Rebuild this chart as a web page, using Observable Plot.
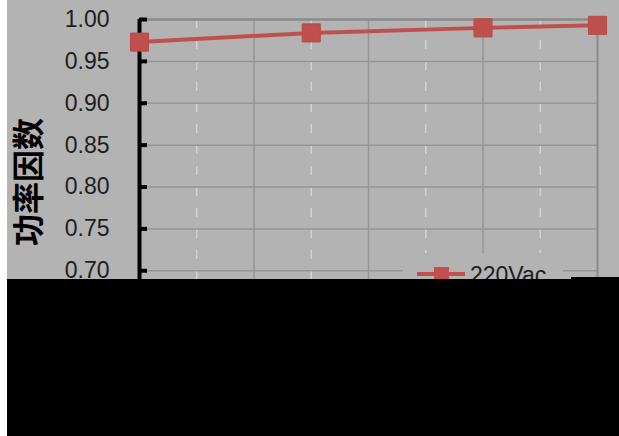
<!DOCTYPE html>
<html><head><meta charset="utf-8">
<script src="https://cdn.jsdelivr.net/npm/d3@7"></script>
<script src="https://cdn.jsdelivr.net/npm/@observablehq/plot@0.6"></script>
<style>
html,body{margin:0;padding:0;background:#fff;}
#wrap{position:relative;width:619px;height:436px;overflow:hidden;background:#fff;}
#bg{position:absolute;left:7px;top:0;right:0;bottom:0;background:#b3b3b3;}
#chart{position:absolute;left:0;top:0;}
#legend{position:absolute;left:403px;top:253px;width:160px;height:40px;background:#b3b3b3;}
#legend svg{position:absolute;left:14px;top:13px;}
#legend span{position:absolute;left:67px;top:9px;font:23px 'Liberation Sans',Arial,sans-serif;color:#1e1e1e;line-height:27px;}
#cover{position:absolute;left:7px;top:279px;right:0;bottom:0;background:#000;}
#cover2{position:absolute;left:571px;top:277px;right:0;height:3px;background:#000;}
</style>
</head><body>
<div id="wrap">
  <div id="bg"></div>
  <div id="chart"></div>
  <div id="legend"></div>
  <div id="cover"></div>
  <div id="cover2"></div>
</div>
<script>
// Data
const loadPct = [20, 50, 80, 100];
const pf220 = [0.973, 0.984, 0.990, 0.993];
const seriesName = "220Vac";
const yTicks = [0.60, 0.65, 0.70, 0.75, 0.80, 0.85, 0.90, 0.95, 1.00];
const xMajor = [20, 40, 60, 80, 100];
const xMinor = [30, 50, 70, 90];
const yTitle = "功率因数";

const data = loadPct.map((x, i) => ({x, y: pf220[i]}));
const red = "#c0504d";

const chart = Plot.plot({
  width: 619, height: 436,
  marginLeft: 139, marginRight: 22, marginTop: 19, marginBottom: 82,
  style: {background: "transparent", fontFamily: "'Liberation Sans', Arial, sans-serif", fontSize: "23px", color: "#1e1e1e", overflow: "visible"},
  x: {domain: [20, 100], axis: null},
  y: {domain: [0.6, 1.0], axis: null},
  marks: [
    Plot.ruleX(xMinor, {stroke: "#d2d2d2", strokeWidth: 1.5, strokeDasharray: "9,12"}),
    Plot.ruleY(yTicks.filter(d => d < 1), {stroke: "#969696", strokeWidth: 1.5}),
    Plot.ruleX(xMajor.slice(1, -1), {stroke: "#969696", strokeWidth: 1.5}),
    Plot.ruleY([1.0], {stroke: "#8a8a8a", strokeWidth: 2.5}),
    Plot.ruleX([100], {stroke: "#8a8a8a", strokeWidth: 2}),
    Plot.ruleX([20], {stroke: "#000", strokeWidth: 4}),
    Plot.tickY(yTicks, {y: d => d, stroke: "#000", strokeWidth: 4, insetRight: 450}),
    Plot.axisY({ticks: yTicks, tickFormat: d3.format(".2f"), tickSize: 0, tickPadding: 30, label: null, fill: "#1e1e1e"}),
    Plot.text([yTitle], {frameAnchor: "left", rotate: -90, dx: -110, dy: 59, fontSize: 32, fontWeight: "bold", fontFamily: "'Noto Sans CJK SC', sans-serif", fill: "#000"}),
    Plot.line(data, {x: "x", y: "y", stroke: red, strokeWidth: 4}),
    Plot.dot(data, {x: "x", y: "y", symbol: "square", r: 10.2, fill: red, stroke: "#b94a47", strokeWidth: 1})
  ]
});
document.getElementById("chart").appendChild(chart);

// Legend
const lg = document.getElementById("legend");
const sw = d3.create("svg").attr("width", 50).attr("height", 20);
sw.append("line").attr("x1", 0).attr("x2", 48).attr("y1", 8).attr("y2", 8).attr("stroke", red).attr("stroke-width", 4);
sw.append("rect").attr("x", 17).attr("y", 1).attr("width", 15).attr("height", 15).attr("fill", red);
lg.appendChild(sw.node());
const sp = document.createElement("span");
sp.textContent = seriesName;
lg.appendChild(sp);
</script>
</body></html>
